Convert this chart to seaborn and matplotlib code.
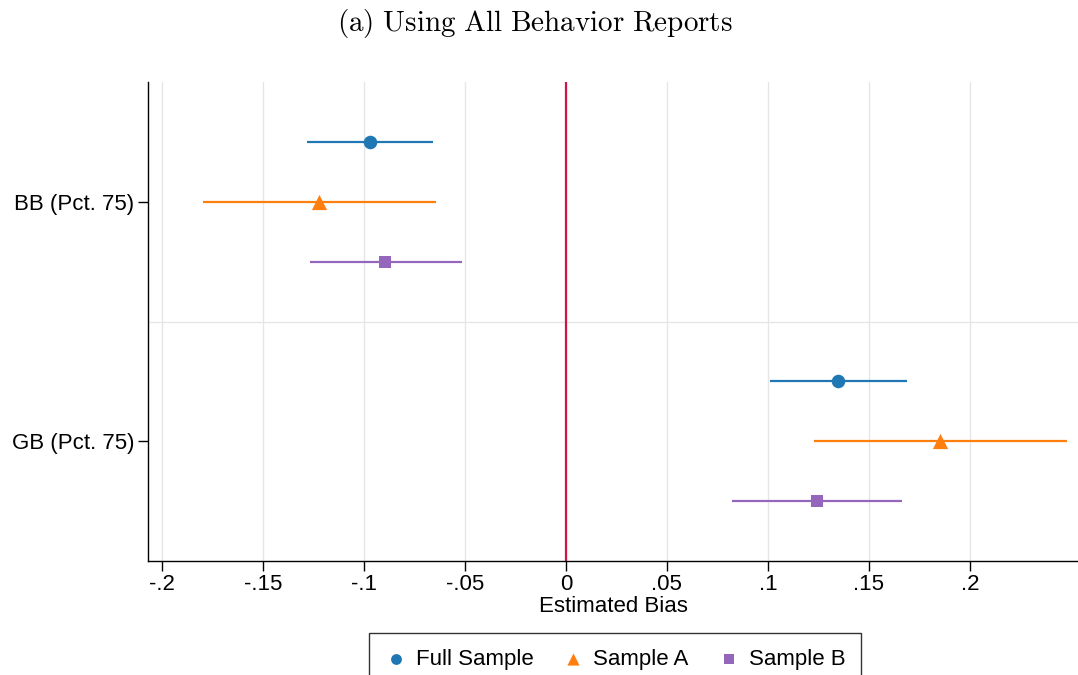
import numpy as np
import pandas as pd
import matplotlib
matplotlib.use("Agg")
import matplotlib.pyplot as plt
import seaborn as sns

# Coefficient estimates with 95% confidence bounds
outcomes = ["BB (Pct. 75)", "GB (Pct. 75)"]
samples = ["Full Sample", "Sample A", "Sample B"]
estimate = {
    "Full Sample": [-0.097, 0.1347],
    "Sample A": [-0.1223, 0.1851],
    "Sample B": [-0.0896, 0.1243],
}
ci_low = {
    "Full Sample": [-0.128, 0.101],
    "Sample A": [-0.1797, 0.1228],
    "Sample B": [-0.1267, 0.0822],
}
ci_high = {
    "Full Sample": [-0.0658, 0.1688],
    "Sample A": [-0.0644, 0.248],
    "Sample B": [-0.0515, 0.1663],
}
x_ticks = [-0.2, -0.15, -0.1, -0.05, 0, 0.05, 0.1, 0.15, 0.2]
x_tick_labels = ["-.2", "-.15", "-.1", "-.05", "0", ".05", ".1", ".15", ".2"]

colors = {"Full Sample": "#1f77b4", "Sample A": "#ff7f0e", "Sample B": "#9467bd"}
markers = {"Full Sample": "o", "Sample A": "^", "Sample B": "s"}
sizes = {"Full Sample": 95, "Sample A": 120, "Sample B": 85}
offsets = {"Full Sample": -0.25, "Sample A": 0.0, "Sample B": 0.25}

rows = []
for s in samples:
    for i, o in enumerate(outcomes):
        rows.append({
            "sample": s, "outcome": o,
            "pos": i + offsets[s],
            "est": estimate[s][i], "lo": ci_low[s][i], "hi": ci_high[s][i],
        })
df = pd.DataFrame(rows)

sns.set_style("white")
plt.rcParams["font.family"] = ["Liberation Sans", "DejaVu Sans"]
plt.rcParams["mathtext.fontset"] = "cm"
plt.rcParams["text.color"] = "black"
plt.rcParams["axes.labelcolor"] = "black"
plt.rcParams["xtick.color"] = "black"
plt.rcParams["ytick.color"] = "black"

fs = 16

fig = plt.figure(figsize=(10.78, 6.75), dpi=100)
ax = fig.add_axes([148 / 1078, 114 / 675, 1 - 148 / 1078, 479 / 675])

# Grid
for t in x_ticks:
    ax.axvline(t, color="#e6e6e6", lw=1.0, zorder=0)
ax.axhline(0.5, color="#e6e6e6", lw=1.0, zorder=0)

# Confidence intervals
for s in samples:
    d = df[df["sample"] == s]
    ax.hlines(d["pos"], d["lo"], d["hi"], color=colors[s], lw=1.6, zorder=2)

# Point estimates
for s in samples:
    d = df[df["sample"] == s]
    sns.scatterplot(data=d, x="est", y="pos", ax=ax, color=colors[s],
                    marker=markers[s], s=sizes[s], linewidth=0, zorder=3,
                    label=s, legend=True)

ax.axvline(0, color="#d0144a", lw=1.6, zorder=2.5)

ax.set_xlim(-0.2069, 0.2535)
ax.set_ylim(1.5, -0.5)
ax.set_yticks([0, 1])
ax.set_yticklabels(outcomes, fontsize=fs)
ax.set_xticks(x_ticks)
ax.set_xticklabels(x_tick_labels, fontsize=fs)
ax.set_xlabel("Estimated Bias", fontsize=fs, labelpad=1)
ax.set_ylabel("")

for side in ["top", "right"]:
    ax.spines[side].set_visible(False)
for side in ["left", "bottom"]:
    ax.spines[side].set_color("black")
    ax.spines[side].set_linewidth(1.0)
ax.tick_params(axis="both", which="major", length=7, width=1.0, color="black",
               direction="out", bottom=True, left=True)
ax.tick_params(axis="x", pad=2)
ax.tick_params(axis="y", pad=3)

handles, labels = ax.get_legend_handles_labels()
ax.legend_.remove()
leg = fig.legend(handles, labels, ncol=3, loc="upper center",
                 bbox_to_anchor=(615 / 1078, 1 - 633 / 675), frameon=True,
                 fontsize=fs, handletextpad=0.4, columnspacing=1.3,
                 borderpad=0.7, handlelength=1.0, fancybox=False,
                 borderaxespad=0, markerscale=0.8)
leg.get_frame().set_edgecolor("black")
leg.get_frame().set_linewidth(1.0)

fig.text(535 / 1078, 1 - 24 / 675, r"$\mathrm{(a)\ Using\ All\ Behavior\ Reports}$",
         ha="center", va="center", fontsize=21)

fig.savefig("out.png", dpi=100)
